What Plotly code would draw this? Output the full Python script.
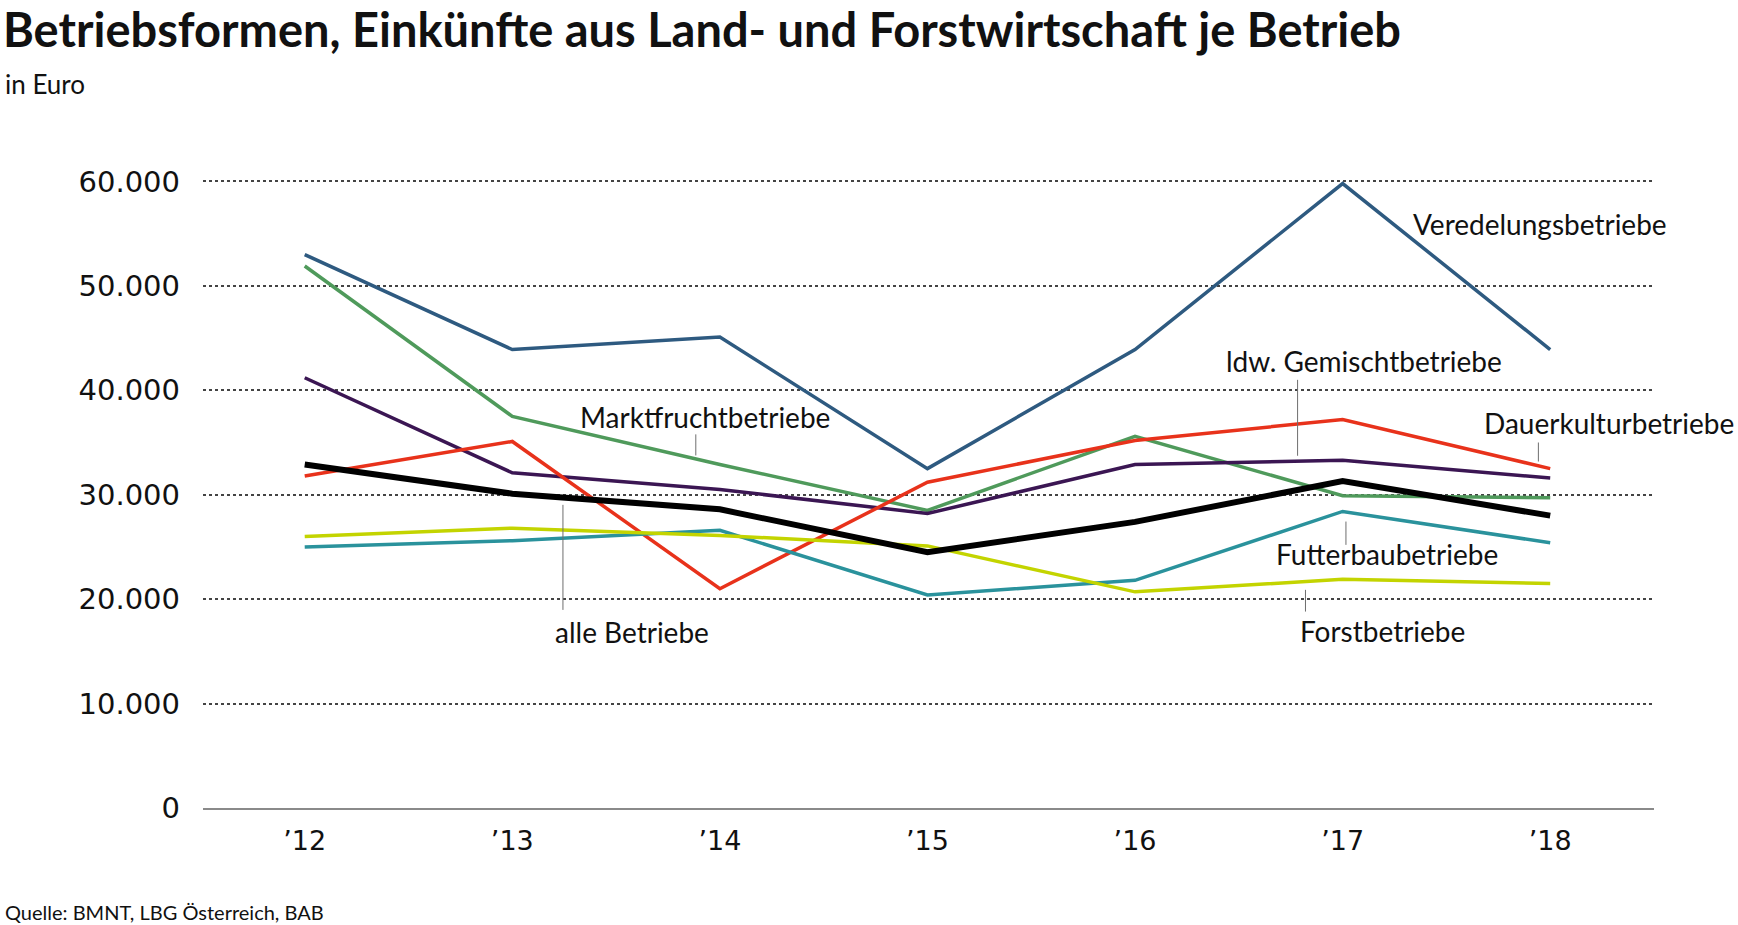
import plotly.graph_objects as go

# ---------------- data ----------------
years = ["’12", "’13", "’14", "’15", "’16", "’17", "’18"]
veredelung = [53000, 43900, 45100, 32500, 43900, 59800, 43900]
marktfrucht = [51900, 37500, 32900, 28500, 35600, 29900, 29700]
gemischt = [41200, 32100, 30500, 28200, 32900, 33300, 31600]
dauerkultur = [31800, 35100, 21000, 31200, 35200, 37200, 32500]
futterbau = [25000, 25600, 26600, 20400, 21800, 28400, 25400]
forst = [26000, 26800, 26100, 25100, 20700, 21900, 21500]
alle = [32900, 30100, 28600, 24500, 27400, 31300, 28000]

ytick_vals = [0, 10000, 20000, 30000, 40000, 50000, 60000]
ytick_text = ["0", "10.000", "20.000", "30.000", "40.000", "50.000", "60.000"]

series_names = ["Veredelungsbetriebe", "Marktfruchtbetriebe", "ldw. Gemischtbetriebe",
                "Dauerkulturbetriebe", "Futterbaubetriebe", "Forstbetriebe", "alle Betriebe"]
series_values = [veredelung, marktfrucht, gemischt, dauerkultur, futterbau, forst, alle]
series_colors = ["#2e5a80", "#4f9a5b", "#3b1653", "#e8321b", "#2a929c", "#c3d400", "#000000"]
series_widths = [3.5, 3.5, 3.5, 3.5, 3.5, 3.5, 6]

# label placements
label_x = [5.33, 1.318, 4.43, 5.67, 4.67, 4.785, 1.195]
label_y = [55950, 37450, 42780, 36890, 24310, 16950, 16850]
conn_x = [None, 1.884, 4.783, 5.943, 5.016, 4.821, 1.244]
conn_y0 = [None, 35780, 41000, 35000, 27430, 20890, 29030]
conn_y1 = [None, 33760, 33730, 33180, 25200, 18810, 18970]

# ---------------- figure ----------------
W, H = 1738, 925
L, R, T, B = 203, 84, 171, 117
PW, PH = W - L - R, H - T - B


def px(x):
    return (x - L) / PW


def py(y):
    return (H - B - y) / PH


xs = list(range(len(years)))
fig = go.Figure()
for name, vals, col, wd in zip(series_names, series_values, series_colors, series_widths):
    fig.add_trace(go.Scatter(x=xs, y=vals, mode="lines", name=name,
                             line=dict(color=col, width=wd), hoverinfo="x+y+name"))

label_font = dict(family="Lato", size=28, color="#111111")
for i, name in enumerate(series_names):
    fig.add_annotation(x=label_x[i], y=label_y[i], xref="x", yref="y", text=name,
                       showarrow=False, xanchor="left", yanchor="middle", font=label_font)
    if conn_x[i] is not None:
        fig.add_shape(type="line", xref="x", yref="y", x0=conn_x[i], x1=conn_x[i],
                      y0=conn_y0[i], y1=conn_y1[i], line=dict(color="#6e6e6e", width=1))

fig.add_annotation(xref="paper", yref="paper", x=px(3), y=py(84), text="in Euro",
                   showarrow=False, xanchor="left", yanchor="middle",
                   font=dict(family="Lato", size=26, color="#111111"))
fig.add_annotation(xref="paper", yref="paper", x=px(3), y=py(912),
                   text="Quelle: BMNT, LBG Österreich, BAB",
                   showarrow=False, xanchor="left", yanchor="middle",
                   font=dict(family="Lato", size=20, color="#111111"))

fig.update_layout(
    width=W, height=H,
    margin=dict(l=L, r=R, t=T, b=B),
    paper_bgcolor="white", plot_bgcolor="white",
    showlegend=False,
    title=dict(text="<b>Betriebsformen, Einkünfte aus Land- und Forstwirtschaft je Betrieb</b>",
               xref="container", yref="container", x=3 / W, y=1 - 31 / H,
               xanchor="left", yanchor="middle", pad=dict(l=0, t=0, b=0, r=0),
               font=dict(family="Lato", size=47, color="#111111")),
    xaxis=dict(range=[-0.49, 6.5], tickvals=xs, ticktext=years, showgrid=False,
               zeroline=False, showline=True, linecolor="#8a8a8a", linewidth=2,
               ticks="", ticklabelstandoff=8,
               tickfont=dict(family="DejaVu Sans", size=27, color="#111111")),
    yaxis=dict(range=[0, 61000], tickvals=ytick_vals, ticktext=ytick_text,
               showgrid=True, gridcolor="#444444", griddash="dot", gridwidth=1.5,
               zeroline=False, showline=False, ticks="", ticklabelstandoff=22,
               tickfont=dict(family="DejaVu Sans", size=29, color="#111111")),
)

fig.write_html("out.html", config={"displayModeBar": False},
               post_script="document.body.style.margin='0';")
